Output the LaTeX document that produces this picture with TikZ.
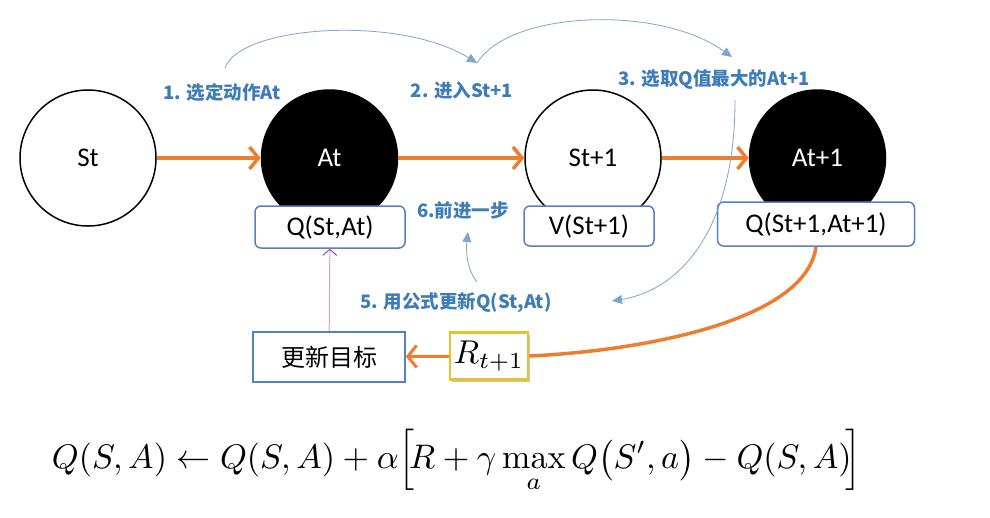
\documentclass[tikz,border=0pt]{standalone}
\usepackage[no-math]{fontspec}
\setmainfont{Carlito}
\newfontfamily\cjk{Noto Sans CJK SC}
\usetikzlibrary{arrows.meta,positioning,calc,shadows}
\definecolor{Orange}{RGB}{237,125,49}
\definecolor{StepBlue}{RGB}{62,124,184}
\definecolor{CurveBlue}{RGB}{125,165,205}
\definecolor{BoxBlue}{RGB}{84,130,190}
\definecolor{Gold}{RGB}{236,192,40}
\definecolor{Plum}{RGB}{150,80,165}

\begin{document}
\begin{tikzpicture}[x=1pt,y=-1pt,
  stnode/.style={circle,draw=black,line width=1.5pt,minimum size=136pt,inner sep=0pt,
                 font=\fontsize{27}{32}\selectfont},
  actnode/.style={stnode,fill=black,text=white},
  valbox/.style={draw=BoxBlue,line width=1.5pt,rounded corners=6pt,fill=white,
                 minimum height=42pt,font=\fontsize{27}{32}\selectfont},
  steplab/.style={text=StepBlue,inner sep=1pt,font=\cjk\bfseries\fontsize{18.5}{22}\selectfont},
  arr/.style={-{Straight Barb[length=9pt,width=22pt]},line width=3.5pt,draw=Orange},
  hop/.style={-{Triangle[length=10pt,width=9pt]},line width=0.8pt,draw=CurveBlue}]
  \useasboundingbox (0,0) rectangle (990,517);
  % states and actions
  \node[stnode] (st) at (88,158) {St};
  \node[actnode] (at) [right=104pt of st] {At};
  \node[stnode] (st1) [right=126pt of at] {St+1};
  \node[actnode] (at1) [right=87pt of st1] {At+1};
  % values
  \node[valbox,minimum width=150pt] (qsa) at (330,227) {Q(St,At)};
  \node[valbox,minimum width=130pt,minimum height=40pt] (vs1) at (589,226) {V(St+1)};
  \node[valbox,minimum width=197pt,minimum height=44pt] (qs1) at (816,224) {Q(St+1,At+1)};
  \node[draw=BoxBlue,line width=1.5pt,fill=white,minimum width=152pt,minimum height=50pt,
        font=\cjk\fontsize{24}{28}\selectfont] (target) at (329,357) {更新目标};
  \node[draw=Gold,line width=2.5pt,fill=white,drop shadow={opacity=0.45},minimum width=78pt,
        minimum height=47pt,inner sep=2pt] (rew) at (489,356) {\scalebox{3.3}{$R_{t+1}$}};
  % step labels
  \node[steplab] (lab1) at (222,92) {1. 选定动作At};
  \node[steplab] (lab2) at (462,90) {2. 进入St+1};
  \node[steplab] (lab3) at (714,80) {3. 选取Q值最大的At+1};
  \node[steplab] (lab6) at (463,210) {6.前进一步};
  \node[steplab] (lab5) at (456,303) {5. 用公式更新Q(St,At)};
  \coordinate (h1) at (225,68);
  \coordinate (h2) at (477,63);
  \coordinate (h3) at (732,57);
  \coordinate (h4) at (735,100);
  \coordinate (h5) at (612,301);
  \coordinate (h6) at (477,282);
  \coordinate (h7) at (468,232);
  % transitions
  \draw[arr] (st) -- (at);
  \draw[arr] (at) -- (st1);
  \draw[arr] (st1) -- (at1);
  \draw[arr,-] (qs1.south) .. controls +(-10,75) and +(110,-5) .. (rew.east);
  \draw[arr,line width=3pt] (rew) -- (target);
  \draw[Plum,densely dotted,line width=1pt,-{Straight Barb[length=6pt,width=14pt]}] (target) -- (qsa);
  \draw[hop] (h1) .. controls (240,25) and (400,15) .. (h2);
  \draw[hop] (h2) .. controls (510,10) and (660,5) .. (h3);
  \draw[hop] (h4) .. controls (735,230) and (680,290) .. (h5);
  \draw[hop] (h6) .. controls (466,268) and (466,250) .. (h7);
  % update rule
  \node (rule) at (457,461) {\resizebox{810pt}{!}{$\displaystyle
    Q(S,A)\leftarrow Q(S,A)+\alpha\!\left[\!R+\gamma\max_a Q\bigl(S',a\bigr)-Q(S,A)\!\right]$}};
\end{tikzpicture}
\end{document}
